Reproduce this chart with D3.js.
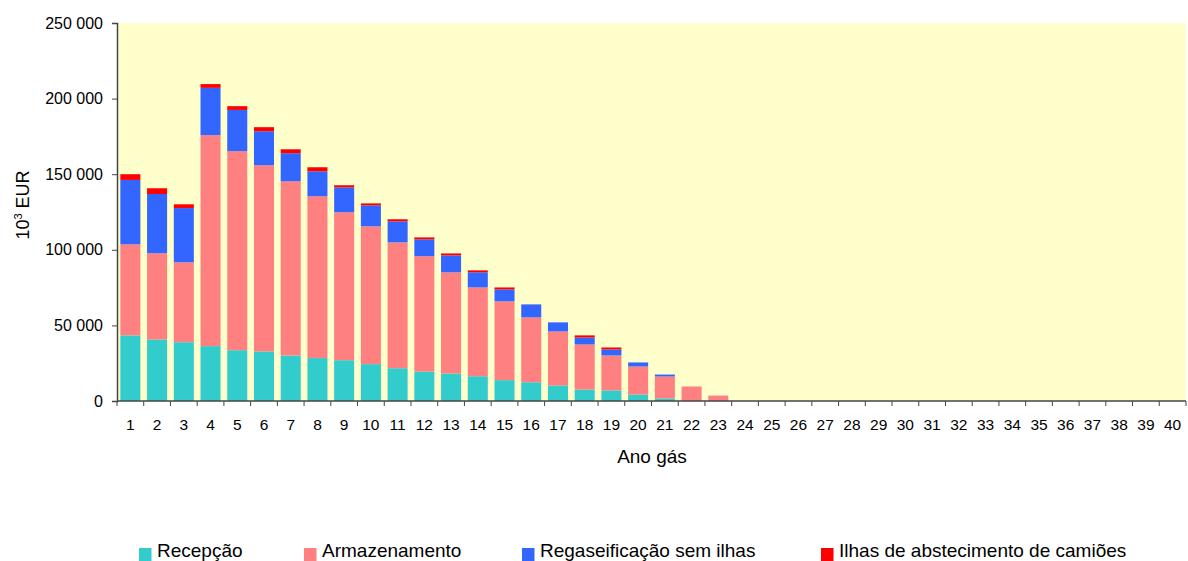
<!DOCTYPE html>
<html>
<head>
<meta charset="utf-8">
<script src="https://cdn.jsdelivr.net/npm/d3@7"></script>
<style>
  html, body { margin: 0; padding: 0; background: #fff; }
  svg { display: block; font-family: "Liberation Sans", Arial, sans-serif; }
</style>
</head>
<body>
<svg id="chart" width="1188" height="561"></svg>
<script>
// Gas years 1..40
const years = d3.range(1, 41).map(String);

// Cost components, 10^3 EUR
const rececao = [43400, 40700, 38900, 36300, 33600, 32800, 30100, 28400, 27000, 24400,
  21700, 19500, 18200, 16400, 13800, 12400, 10300, 7600, 7000, 4300,
  1700, 0, 0, 0, 0, 0, 0, 0, 0, 0, 0, 0, 0, 0, 0, 0, 0, 0, 0, 0];
const armazenamento = [60200, 57000, 52800, 139500, 131600, 123100, 115200, 107000, 97800, 91100,
  83200, 76200, 66900, 58700, 52100, 42900, 35700, 29800, 23100, 18500,
  14500, 9600, 3600, 0, 0, 0, 0, 0, 0, 0, 0, 0, 0, 0, 0, 0, 0, 0, 0, 0];
const regaseificacao = [42600, 39200, 35900, 31300, 27300, 22500, 18600, 16500, 16500, 13900,
  13900, 11200, 11200, 10000, 7900, 8600, 6000, 4600, 4000, 2700,
  1300, 0, 0, 0, 0, 0, 0, 0, 0, 0, 0, 0, 0, 0, 0, 0, 0, 0, 0, 0];
const ilhas = [3800, 3800, 2500, 2500, 2500, 2700, 2600, 2700, 1400, 1300,
  1400, 1300, 1300, 1300, 1300, 0, 0, 1400, 1300, 0,
  0, 0, 0, 0, 0, 0, 0, 0, 0, 0, 0, 0, 0, 0, 0, 0, 0, 0, 0, 0];

const yTicks = [0, 50000, 100000, 150000, 200000, 250000];

const seriesNames = ["Recepção", "Armazenamento", "Regaseificação sem ilhas", "Ilhas de abstecimento de camiões"];
const seriesColors = ["#33CCCC", "#FF8080", "#3366FF", "#FF0000"];
const seriesKeys = ["rececao", "armazenamento", "regaseificacao", "ilhas"];

const table = years.map((y, i) => ({
  ano: y,
  rececao: rececao[i],
  armazenamento: armazenamento[i],
  regaseificacao: regaseificacao[i],
  ilhas: ilhas[i]
}));

const svg = d3.select("#chart");
const plot = { left: 117, right: 1186, top: 23, bottom: 401 };

const x = d3.scaleBand().domain(years).range([plot.left, plot.right]).paddingInner(0.25).paddingOuter(0.125);
const y = d3.scaleLinear().domain([0, 250000]).range([plot.bottom, plot.top]);

// Plot background
svg.append("rect")
  .attr("x", plot.left).attr("y", plot.top)
  .attr("width", plot.right - plot.left).attr("height", plot.bottom - plot.top)
  .attr("fill", "#FFFFCC");

// Stacked bars
const stack = d3.stack().keys(seriesKeys)(table);
svg.append("g").selectAll("g")
  .data(stack)
  .join("g")
  .attr("fill", (d, i) => seriesColors[i])
  .selectAll("rect")
  .data(d => d.filter(s => s[1] - s[0] > 0))
  .join("rect")
  .attr("x", d => x(d.data.ano))
  .attr("width", x.bandwidth())
  .attr("y", d => y(d[1]))
  .attr("height", d => y(d[0]) - y(d[1]));

const fmt = v => d3.format(",")(v).replace(/,/g, " ");

// Y axis
const yAxis = svg.append("g")
  .attr("transform", `translate(${plot.left},0)`)
  .call(d3.axisLeft(y).tickValues(yTicks).tickFormat(fmt).tickSize(5).tickPadding(9));
yAxis.select(".domain").attr("stroke", "#444").attr("stroke-width", 1.5);
yAxis.selectAll(".tick line").attr("stroke", "#444");
yAxis.selectAll("text").attr("font-size", 16).attr("fill", "#000")
  .attr("font-family", "Liberation Sans, Arial, sans-serif");

// X axis: tick marks at category boundaries, labels centred on bars
const xg = svg.append("g");
xg.append("line")
  .attr("x1", plot.left).attr("x2", plot.right)
  .attr("y1", plot.bottom).attr("y2", plot.bottom)
  .attr("stroke", "#444").attr("stroke-width", 1.5);
xg.selectAll("line.tk")
  .data(d3.range(0, 41))
  .join("line")
  .attr("class", "tk")
  .attr("x1", i => plot.left + i * (plot.right - plot.left) / 40)
  .attr("x2", i => plot.left + i * (plot.right - plot.left) / 40)
  .attr("y1", plot.bottom).attr("y2", plot.bottom + 5)
  .attr("stroke", "#444");
xg.selectAll("text")
  .data(years)
  .join("text")
  .attr("x", d => x(d) + x.bandwidth() / 2)
  .attr("y", 430)
  .attr("text-anchor", "middle")
  .attr("font-size", 15.5)
  .text(d => d);

// Axis titles
svg.append("text")
  .attr("x", 652).attr("y", 463)
  .attr("text-anchor", "middle")
  .attr("font-size", 19)
  .text("Ano gás");

const yt = svg.append("text")
  .attr("transform", "translate(29,205) rotate(-90)")
  .attr("text-anchor", "middle")
  .attr("font-size", 18);
yt.append("tspan").text("10");
yt.append("tspan").attr("font-size", 11).attr("dy", -7).text("3");
yt.append("tspan").attr("dy", 7).text(" EUR");

// Legend
const legendX = [139, 304, 522, 821];
const lg = svg.append("g").selectAll("g")
  .data(seriesNames)
  .join("g")
  .attr("transform", (d, i) => `translate(${legendX[i]},548)`);
lg.append("rect")
  .attr("width", 12.5).attr("height", 13)
  .attr("fill", (d, i) => seriesColors[i]);
lg.append("text")
  .attr("x", 18).attr("y", 9)
  .attr("font-size", 19)
  .text(d => d);
</script>
</body>
</html>
